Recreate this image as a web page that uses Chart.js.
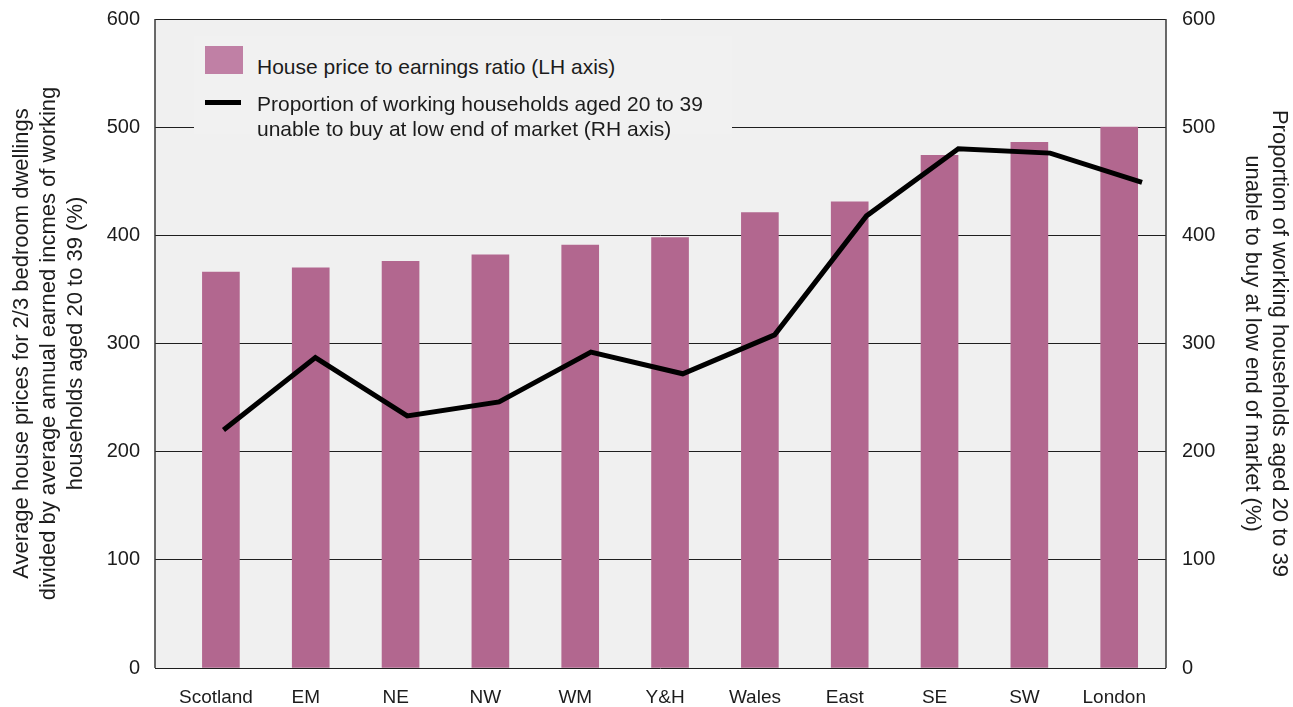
<!DOCTYPE html>
<html>
<head>
<meta charset="utf-8">
<script src="https://cdn.jsdelivr.net/npm/chart.js@4"></script>
<style>
  html, body { margin: 0; padding: 0; background: #ffffff; }
  #wrap { position: relative; width: 1293px; height: 707px; font-family: "Liberation Sans", Arial, Helvetica, sans-serif; color: #1c1c1c; }
  #wrap canvas { position: absolute; left: 0; top: 0; }
  #legend { position: absolute; left: 194px; top: 36px; width: 538px; height: 98px; background: #f1f1f1; }
  .sw { position: absolute; }
  .lt { position: absolute; font-size: 21px; line-height: 25px; white-space: nowrap; }
</style>
</head>
<body>
<div id="wrap">
  <canvas id="c" width="1293" height="707"></canvas>
  <div id="legend">
    <div class="sw" style="left:11px; top:10px; width:38px; height:28px; background:#c080a5;"></div>
    <div class="lt" style="left:63px; top:17.5px;">House price to earnings ratio (LH axis)</div>
    <div class="sw" style="left:11px; top:63.5px; width:36px; height:5px; background:#000;"></div>
    <div class="lt" style="left:63px; top:55px;">Proportion of working households aged 20 to 39<br>unable to buy at low end of market (RH axis)</div>
  </div>
</div>
<script>
const categories = ['Scotland', 'EM', 'NE', 'NW', 'WM', 'Y&H', 'Wales', 'East', 'SE', 'SW', 'London'];
const priceToEarnings = [366, 370, 376, 382, 391, 398, 421, 431, 474, 486, 500];
const unableToBuy = [220, 287, 233, 246, 292, 272, 308, 418, 480, 476, 449];
const yTicks = [0, 100, 200, 300, 400, 500, 600];
const leftTitle = ['Average house prices for 2/3 bedroom dwellings', 'divided by average annual earned incmes of working', 'households aged 20 to 39 (%)'];
const rightTitle = ['Proportion of working households aged 20 to 39', 'unable to buy at low end of market (%)'];

Chart.defaults.font.family = '"Liberation Sans", Arial, Helvetica, sans-serif';
Chart.defaults.color = '#1c1c1c';

const frame = {
  id: 'frame',
  beforeDraw(chart) {
    const a = chart.chartArea, ctx = chart.ctx;
    ctx.save();
    ctx.fillStyle = '#f0f0f0';
    ctx.fillRect(a.left, a.top, a.right - a.left, a.bottom - a.top);
    ctx.restore();
  },
  beforeDatasetsDraw(chart) {
    const a = chart.chartArea, ctx = chart.ctx;
    ctx.save();
    ctx.strokeStyle = '#3a3a3a';
    ctx.lineWidth = 1.5;
    ctx.beginPath();
    ctx.moveTo(a.left, a.top); ctx.lineTo(a.left, a.bottom);
    ctx.moveTo(a.right, a.top); ctx.lineTo(a.right, a.bottom);
    ctx.stroke();
    ctx.restore();
  }
};

function fixVertical(width) {
  return function (s) { s.width = width; s.paddingTop = 0; s.paddingBottom = 0; };
}

new Chart(document.getElementById('c'), {
  data: {
    datasets: [
      {
        type: 'line',
        label: 'Proportion of working households aged 20 to 39 unable to buy at low end of market (RH axis)',
        data: unableToBuy.map((v, i) => ({ x: i, y: v })),
        xAxisID: 'x2',
        yAxisID: 'y2',
        borderColor: '#000000',
        borderWidth: 5,
        pointRadius: 0,
        tension: 0,
        borderCapStyle: 'butt',
        borderJoinStyle: 'miter',
        order: 0
      },
      {
        type: 'bar',
        label: 'House price to earnings ratio (LH axis)',
        data: priceToEarnings.map((v, i) => ({ x: i, y: v })),
        xAxisID: 'x',
        yAxisID: 'y',
        backgroundColor: '#b2678f',
        barThickness: 37,
        grouped: false,
        order: 1
      }
    ]
  },
  options: {
    responsive: false,
    animation: false,
    layout: { padding: { top: 19, left: 0, right: 0, bottom: 0 } },
    plugins: { legend: { display: false }, tooltip: { enabled: false } },
    scales: {
      x: {
        type: 'linear',
        position: 'bottom',
        offset: false,
        min: -0.7336,
        max: 10.521,
        grid: { display: false, drawTicks: false, offset: false },
        border: { display: false },
        afterBuildTicks(s) { s.ticks = categories.map((c, i) => ({ value: i - 0.055 })); },
        ticks: {
          autoSkip: false,
          maxRotation: 0,
          padding: 18,
          font: { size: 19 },
          color: '#1c1c1c',
          callback: (v) => categories[Math.round(v)] ?? ''
        },
        afterFit(s) { s.height = 39; s.paddingLeft = 0; s.paddingRight = 0; }
      },
      x2: {
        type: 'linear',
        display: false,
        offset: false,
        min: -0.7458,
        max: 10.261
      },
      y: {
        position: 'left',
        min: 0,
        max: 600,
        afterBuildTicks(s) { s.ticks = yTicks.map(v => ({ value: v })); },
        grid: { color: '#1e1e1e', lineWidth: 1, drawTicks: false },
        border: { display: false },
        ticks: { padding: 15, font: { size: 20 }, color: '#1c1c1c' },
        title: {
          display: true,
          text: leftTitle,
          font: { size: 22, lineHeight: 27 / 22 },
          color: '#1c1c1c',
          padding: { top: 8.5, bottom: 0 }
        },
        afterFit: fixVertical(155)
      },
      y2: {
        position: 'right',
        min: 0,
        max: 600,
        afterBuildTicks(s) { s.ticks = yTicks.map(v => ({ value: v })); },
        grid: { display: false, drawTicks: false },
        border: { display: false },
        ticks: { padding: 16, font: { size: 20 }, color: '#1c1c1c' },
        title: {
          display: true,
          text: rightTitle,
          font: { size: 22, lineHeight: 27 / 22 },
          color: '#1c1c1c',
          padding: { top: 0, bottom: 0 }
        },
        afterFit: fixVertical(127)
      }
    }
  },
  plugins: [frame]
});
</script>
</body>
</html>
